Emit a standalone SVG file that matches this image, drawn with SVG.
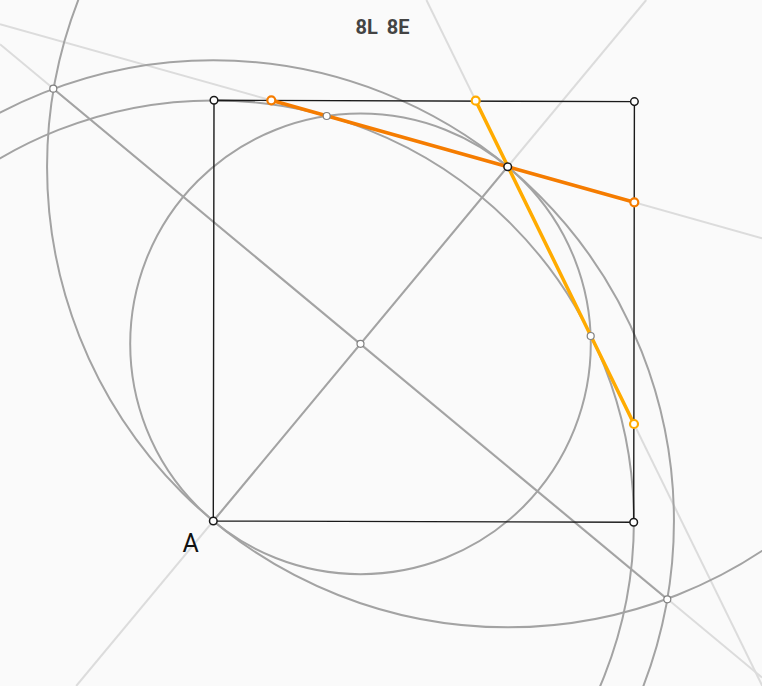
<svg xmlns="http://www.w3.org/2000/svg" width="762" height="686" viewBox="0 0 762 686">
<style>
.bg{fill:#fafafa}
.faint{stroke:#dcdcdc;stroke-width:2;fill:none}
.mid{stroke:#a3a3a3;stroke-width:2;fill:none}
.sq{stroke:#1a1a1a;stroke-width:1.4;fill:none}
.or{stroke:#f57c00;stroke-width:3.5;fill:none;stroke-linecap:round}
.ye{stroke:#ffab00;stroke-width:3.5;fill:none;stroke-linecap:round}
.pk{fill:#fff;stroke:#1a1a1a;stroke-width:1.5}
.pg{fill:#fff;stroke:#808080;stroke-width:1.2}
.po{fill:#fff;stroke:#f57c00;stroke-width:2.2}
.py{fill:#fff;stroke:#ffab00;stroke-width:2.2}
.lab{font-family:Roboto,"Liberation Sans",sans-serif;fill:#111}
.title{font-family:Roboto,"Liberation Sans",sans-serif;font-weight:bold;fill:#444}
</style>
<rect class="bg" x="0" y="0" width="762" height="686"/>
<g id="connectors">
  <line class="faint" x1="0" y1="24.1" x2="762" y2="238.2"/>
  <line class="faint" x1="426.4" y1="0" x2="762.3" y2="686"/>
  <line class="faint" x1="646.2" y1="0" x2="76.2" y2="686"/>
  <line class="faint" x1="0" y1="44.3" x2="762" y2="677.5"/>
  <circle class="mid" cx="213.3" cy="521" r="460.65"/>
  <circle class="mid" cx="213.3" cy="521" r="420.6"/>
  <circle class="mid" cx="507.7" cy="166.7" r="460.65"/>
  <circle class="mid" cx="360.5" cy="343.85" r="230.3"/>
  <line class="mid" x1="213.3" y1="521" x2="507.7" y2="166.7"/>
  <line class="mid" x1="53.3" y1="88.7" x2="667.3" y2="599.3"/>
  <polygon class="sq" points="213.3,521 633.7,522.3 634.4,101.6 214,100.3"/>
  <line class="or" x1="271.3" y1="100.3" x2="634.3" y2="202.3"/>
  <line class="ye" x1="475.7" y1="100.7" x2="634" y2="424"/>
</g>
<g id="A"><circle class="pk" cx="213.3" cy="521" r="3.8"/><text class="lab" x="182.5" y="551.5" font-size="25">A</text></g>
<g id="B"><circle class="pk" cx="633.7" cy="522.3" r="3.8"/></g>
<g id="C"><circle class="pk" cx="634.4" cy="101.6" r="3.8"/></g>
<g id="D"><circle class="pk" cx="214" cy="100.3" r="3.8"/></g>
<g id="P"><circle class="pk" cx="507.7" cy="166.7" r="3.8"/></g>
<g id="M"><circle class="pg" cx="360.5" cy="343.85" r="3.5"/></g>
<g id="I1"><circle class="pg" cx="53.3" cy="88.7" r="3.5"/></g>
<g id="I2"><circle class="pg" cx="667.3" cy="599.3" r="3.5"/></g>
<g id="F1"><circle class="pg" cx="326.7" cy="116" r="3.5"/></g>
<g id="F2"><circle class="pg" cx="590.7" cy="336" r="3.5"/></g>
<g id="O1"><circle class="po" cx="271.3" cy="100.3" r="4"/></g>
<g id="O2"><circle class="po" cx="634.3" cy="202.3" r="4"/></g>
<g id="Y1"><circle class="py" cx="475.7" cy="100.7" r="4"/></g>
<g id="Y2"><circle class="py" cx="634" cy="424" r="4"/></g>
<g id="title"><text class="title" x="382.5" y="34" font-size="20" text-anchor="middle" word-spacing="4">8L 8E</text></g>
</svg>
